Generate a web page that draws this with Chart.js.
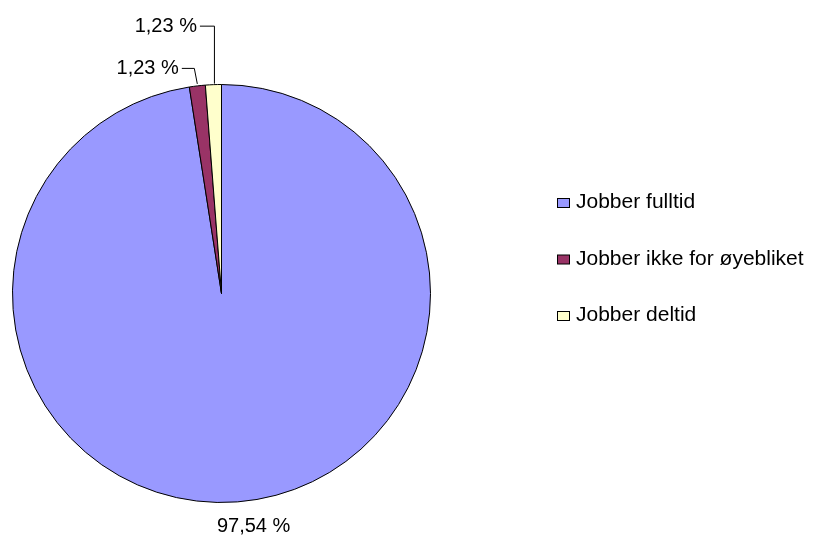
<!DOCTYPE html>
<html>
<head>
<meta charset="utf-8">
<script src="https://cdn.jsdelivr.net/npm/chart.js@4"></script>
<style>
  html, body { margin: 0; padding: 0; background: #fff; }
  #wrap { width: 813px; height: 535px; }
</style>
</head>
<body>
<div id="wrap"><canvas id="myChart" width="813" height="535"></canvas></div>
<script>
// data
const labels = ["Jobber fulltid", "Jobber ikke for øyebliket", "Jobber deltid"];
const values = [97.54, 1.23, 1.23];
const valueText = ["97,54 %", "1,23 %", "1,23 %"];
const colors = ["#9999FF", "#993366", "#FFFFCC"];

const LABEL_FONT = "20px 'Liberation Sans', Arial, sans-serif";
const LEGEND_FONT = "21px 'Liberation Sans', Arial, sans-serif";

// labels with leader lines, placed from the arc geometry
const sliceLabels = {
   id: "sliceLabels",
   afterDatasetsDraw(chart) {
      const ctx = chart.ctx;
      const arcs = chart.getDatasetMeta(0).data;
      ctx.save();
      ctx.font = LABEL_FONT;
      ctx.fillStyle = "#000";
      ctx.strokeStyle = "#000";
      ctx.lineWidth = 1;
      ctx.textBaseline = "middle";

      arcs.forEach((arc, i) => {
         const { x, y, startAngle, endAngle, outerRadius } = arc.getProps(
            ["x", "y", "startAngle", "endAngle", "outerRadius"], true);
         const mid = (startAngle + endAngle) / 2;
         const ex = x + Math.cos(mid) * outerRadius;
         const ey = y + Math.sin(mid) * outerRadius;

         if (i === 0) {
            ctx.textAlign = "center";
            ctx.fillText(valueText[i], ex + 16, ey + 25);
         } else if (i === 1) {
            ctx.beginPath();
            ctx.moveTo(ex, ey - 2);
            ctx.lineTo(ex - 3, ey - 17.5);
            ctx.lineTo(ex - 15.5, ey - 17.5);
            ctx.stroke();
            ctx.textAlign = "right";
            ctx.fillText(valueText[i], ex - 18.5, ey - 17.5);
         } else {
            ctx.beginPath();
            ctx.moveTo(ex + 1, ey - 1);
            ctx.lineTo(ex + 1, ey - 58.5);
            ctx.lineTo(ex - 13.5, ey - 58.5);
            ctx.stroke();
            ctx.textAlign = "right";
            ctx.fillText(valueText[i], ex - 16.5, ey - 58);
         }
      });
      ctx.restore();
   },
};

// legend on the right
const sideLegend = {
   id: "sideLegend",
   afterDraw(chart) {
      const ctx = chart.ctx;
      ctx.save();
      ctx.font = LEGEND_FONT;
      ctx.textAlign = "left";
      ctx.textBaseline = "alphabetic";
      labels.forEach((lab, i) => {
         const y = 203 + i * 56.5;
         ctx.fillStyle = colors[i];
         ctx.fillRect(557.5, y - 4.5, 12, 9);
         ctx.strokeStyle = "#000";
         ctx.lineWidth = 1;
         ctx.strokeRect(557.5, y - 4.5, 12, 9);
         ctx.fillStyle = "#000";
         ctx.fillText(lab, 576, y + 5);
      });
      ctx.restore();
   },
};

const ctx = document.getElementById("myChart").getContext("2d");
const myChart = new Chart(ctx, {
   type: "pie",
   data: {
      labels: labels,
      datasets: [
         {
            data: values,
            backgroundColor: colors,
            borderColor: "#000",
            borderWidth: 1,
         },
      ],
   },
   options: {
      responsive: false,
      animation: false,
      layout: {
         padding: { left: 12, top: 84, right: 382, bottom: 32 },
      },
      plugins: {
         legend: { display: false },
         tooltip: { enabled: false },
      },
   },
   plugins: [sliceLabels, sideLegend],
});
</script>
</body>
</html>
